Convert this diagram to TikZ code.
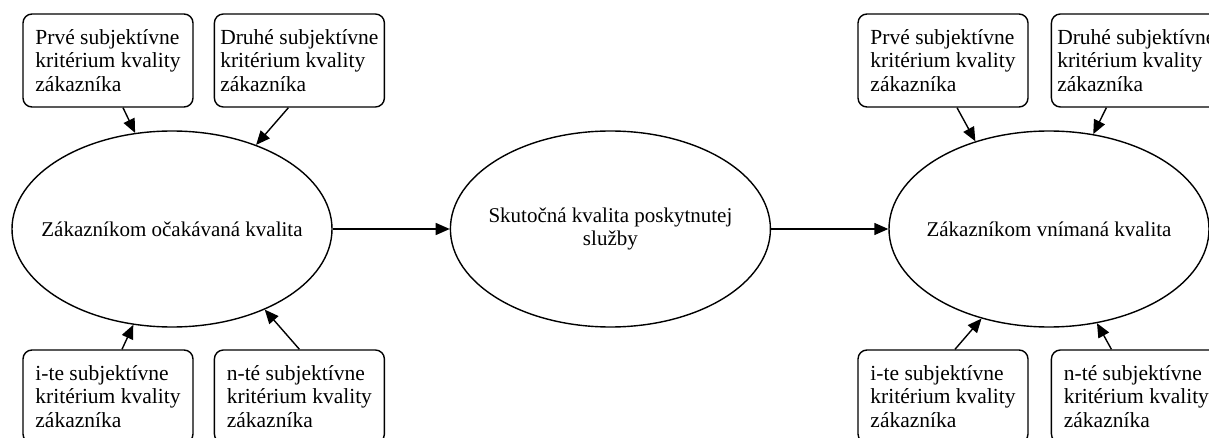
\documentclass[tikz,border=0pt]{standalone}
\usepackage{fontspec}
\setmainfont{Liberation Serif}
\usetikzlibrary{shapes.geometric,arrows.meta,positioning}
\tikzset{
  crit/.style={rectangle,rounded corners=9pt,draw,line width=1.4pt,
              minimum width=170pt,minimum height=93pt,align=left,inner sep=2pt,
              font=\fontsize{21.5}{23.5}\selectfont},
  qual/.style={ellipse,draw,line width=1.4pt,minimum width=320pt,minimum height=196pt,
              inner xsep=-40pt,align=center,font=\fontsize{21}{23.5}\selectfont},
  arr/.style={-{Triangle[length=14pt,width=12pt]},line width=1.4pt},
}

\begin{document}
\begin{tikzpicture}[x=1pt,y=-1pt]
  \clip (0,0) rectangle (1209,438);
  \node[qual] (ocak) at (172,229) {Zákazníkom očakávaná kvalita};
  \node[qual, right=117pt of ocak] (skut) {Skutočná kvalita poskytnutej\\služby};
  \node[qual] (vnim) at (1049,229) {Zákazníkom vnímaná kvalita};

  \node[crit] (ok1) at (108,60.5)  {Prvé subjektívne\\kritérium kvality\\zákazníka};
  \node[crit, right=20pt of ok1] (ok2) {Druhé subjektívne\\kritérium kvality\\zákazníka};
  \node[crit] (ok3) at (108,396.5) {i-te subjektívne\\kritérium kvality\\zákazníka};
  \node[crit, right=20pt of ok3] (ok4) {n-té subjektívne\\kritérium kvality\\zákazníka};

  \node[crit] (vn1) at (943,60.5)  {Prvé subjektívne\\kritérium kvality\\zákazníka};
  \node[crit, right=22pt of vn1] (vn2) {Druhé subjektívne\\kritérium kvality\\zákazníka};
  \node[crit] (vn3) at (943,396.5) {i-te subjektívne\\kritérium kvality\\zákazníka};
  \node[crit, right=22pt of vn3] (vn4) {n-té subjektívne\\kritérium kvality\\zákazníka};

  \draw[arr] (ocak) -- (skut);
  \draw[arr] (skut) -- (vnim);

  \draw[arr] ([xshift=15pt]ok1.south)  -- (ocak.111);
  \draw[arr] ([xshift=-11pt]ok2.south) -- (ocak.45);
  \draw[arr] ([xshift=14pt]ok3.north)  -- (ocak.248);
  \draw[arr] (ok4.north)               -- (ocak.319);

  \draw[arr] ([xshift=14pt]vn1.south)  -- (vnim.130);
  \draw[arr] ([xshift=-30pt]vn2.south) -- (vnim.65);
  \draw[arr] ([xshift=12pt]vn3.north)  -- (vnim.233);
  \draw[arr] ([xshift=-25pt]vn4.north) -- (vnim.297);
\end{tikzpicture}
\end{document}
